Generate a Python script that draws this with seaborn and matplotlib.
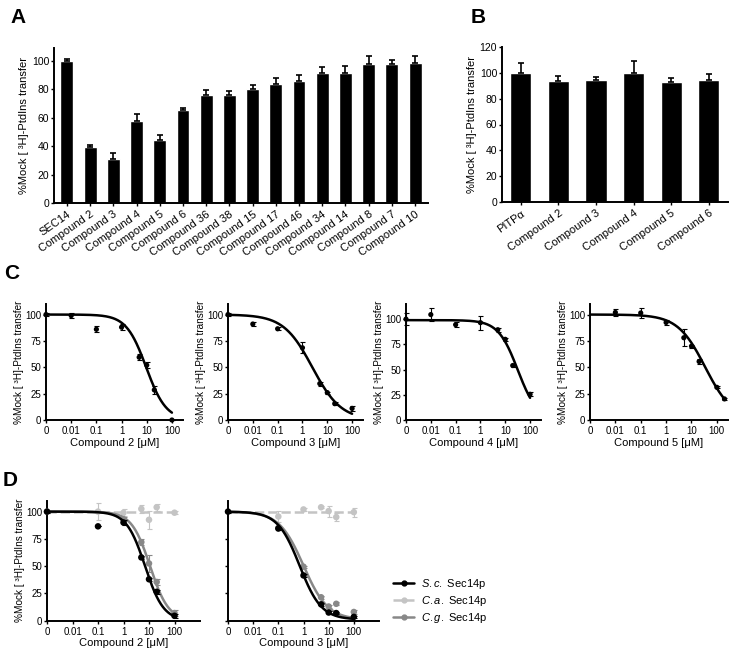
import numpy as np
import pandas as pd
import matplotlib
matplotlib.use("Agg")
import matplotlib.pyplot as plt
from matplotlib.lines import Line2D
import seaborn as sns

# ---------------- data ----------------
# Panel A
a_labels = ["SEC14", "Compound 2", "Compound 3", "Compound 4", "Compound 5", "Compound 6",
            "Compound 36", "Compound 38", "Compound 15", "Compound 17", "Compound 46",
            "Compound 34", "Compound 14", "Compound 8", "Compound 7", "Compound 10"]
a_values = [100, 39.5, 31, 57.5, 44, 65.5, 76, 76, 80, 83.5, 86, 91.5, 91.5, 97.5, 97.8, 98.7]
a_err = [1.5, 1, 4, 5, 4, 1.5, 3.7, 3, 3.3, 4.5, 3.8, 3.8, 5, 6, 3, 5]

# Panel B
b_labels = ["PITPα", "Compound 2", "Compound 3", "Compound 4", "Compound 5", "Compound 6"]
b_values = [100, 93.5, 94.5, 100, 92.8, 94.3]
b_err = [7.5, 4, 2.5, 9, 3, 4.5]

# Panel C (dose response); concentration 0 is drawn at the 0.001 position
c_names = ["Compound 2", "Compound 3", "Compound 4", "Compound 5"]
c1_conc = [0, 0.01, 0.1, 1, 5, 10, 20, 100]
c1_vals = [100, 99, 86, 88, 59.5, 52, 28.5, 0]
c1_err = [1.5, 2, 3, 3, 3, 3, 4, 0]
c2_conc = [0, 0.01, 0.1, 1, 5, 10, 20, 100]
c2_vals = [100, 91, 86.5, 68.5, 34.5, 26, 15.5, 11]
c2_err = [1, 2, 1.5, 5, 2, 1, 1.5, 2.5]
c3_conc = [0, 0.01, 0.1, 1, 5, 10, 20, 100]
c3_vals = [100, 104.5, 94.5, 96.5, 89.5, 80, 54, 25.5]
c3_err = [6, 6.5, 2.5, 7, 2, 1.5, 1, 2]
c4_conc = [0.01, 0.1, 1, 5, 10, 20, 100, 200]
c4_vals = [102, 101.5, 92.5, 78, 70, 55.5, 31, 20]
c4_err = [3, 5, 2, 8, 1.5, 2, 1, 1]
# fitted curve parameters: top, bottom, IC50, Hill slope, end concentration
c1_fit = (100, 0, 9.5, 1.1, 100)
c2_fit = (100, 0, 2.5, 0.75, 100)
c3_fit = (99, 0, 32, 1.1, 100)
c4_fit = (100, 0, 35, 0.8, 200)

# Panel D
d_names = ["Compound 2", "Compound 3"]
series_names = ["S.c.", "C.a.", "C.g."]
d1_sc_conc = [0, 0.1, 1, 5, 10, 20, 100]
d1_sc_vals = [100, 86.5, 90, 58, 38, 26.5, 4.5]
d1_sc_err = [1, 0, 2, 1.5, 1.5, 2, 2]
d1_ca_conc = [0.1, 1, 5, 10, 20, 100]
d1_ca_vals = [100, 99, 102.5, 92.5, 104, 99]
d1_ca_err = [8, 3, 4, 8, 3, 1.5]
d1_cg_conc = [0, 1, 5, 10, 20, 100]
d1_cg_vals = [100, 93, 72, 52.5, 35.5, 7]
d1_cg_err = [1, 2, 3, 8, 3, 3]
d2_sc_conc = [0, 0.1, 1, 5, 10, 20, 100]
d2_sc_vals = [100, 84.5, 41.5, 15, 7.5, 7, 3.5]
d2_sc_err = [1, 1, 1.5, 1.5, 1, 1, 1]
d2_ca_conc = [0.1, 1, 5, 10, 20, 100]
d2_ca_vals = [95.5, 102, 104, 100.5, 95, 99.5]
d2_ca_err = [5, 1, 1, 5, 4, 4]
d2_cg_conc = [0.1, 1, 5, 10, 20, 100]
d2_cg_vals = [85, 49.5, 21.5, 13, 15.5, 8]
d2_cg_err = [1, 1, 1.5, 1.5, 1.5, 2]
d1_sc_fit = (100, 0, 7, 1.2, 100)
d1_ca_fit = (100, 100, 1, 1, 100)
d1_cg_fit = (100, 0, 11, 1.2, 100)
d2_sc_fit = (100, 1, 0.7, 1.0, 100)
d2_ca_fit = (100, 100, 1, 1, 100)
d2_cg_fit = (100, 1, 1.0, 0.9, 100)

x_tick_pos = [-3, -2, -1, 0, 1, 2]
x_tick_labels = ["0", "0.01", "0.1", "1", "10", "100"]

# ---------------- style ----------------
sns.set_style("ticks")
plt.rcParams["font.family"] = ["Liberation Sans", "DejaVu Sans"]
plt.rcParams["mathtext.fontset"] = "custom"
plt.rcParams["mathtext.rm"] = "Liberation Sans"
plt.rcParams["mathtext.it"] = "Liberation Sans:italic"
for k in ["text.color", "axes.labelcolor", "xtick.color", "ytick.color", "axes.edgecolor"]:
    plt.rcParams[k] = "black"
plt.rcParams["axes.linewidth"] = 1.4
plt.rcParams["xtick.major.width"] = 1.0
plt.rcParams["ytick.major.width"] = 1.0
plt.rcParams["xtick.major.size"] = 2.5
plt.rcParams["ytick.major.size"] = 2.5
plt.rcParams["xtick.major.pad"] = 2
plt.rcParams["ytick.major.pad"] = 1

BAR_TICK_FS = 7.5
LAB_FS = 8
CUR_TICK_FS = 7
CUR_YLAB_FS = 7.2
YLAB = "%Mock [ ³H]-PtdIns transfer"
BLACK = "#000000"
LGRAY = "#c4c4c4"
MGRAY = "#888888"

W, H = 737, 661
fig = plt.figure(figsize=(W / 100, H / 100), dpi=100)


def add_ax(left, top, right, bottom):
    return fig.add_axes([left / W, 1 - bottom / H, (right - left) / W, (bottom - top) / H])


def pos(c):
    c = np.asarray(c, dtype=float)
    return np.where(c > 0, np.log10(np.where(c > 0, c, 1)), -3.0)


def curve(fit):
    top, bottom, ic50, hill, cend = fit
    xs = np.linspace(-3, np.log10(cend), 300)
    conc = 10 ** xs
    ys = bottom + (top - bottom) / (1 + (conc / ic50) ** hill)
    return xs, ys


def style_ax(ax, fs):
    sns.despine(ax=ax)
    ax.tick_params(labelsize=fs, direction="out")


# ---------------- Panel A ----------------
axA = add_ax(54, 48, 428, 203)
sns.barplot(x=a_labels, y=a_values, color=BLACK, saturation=1, width=0.56,
            errorbar=None, ax=axA)
axA.errorbar(np.arange(len(a_values)), a_values, yerr=[np.zeros(len(a_err)), a_err],
             fmt="none", ecolor=BLACK, elinewidth=1.2, capsize=2.2, capthick=1.2)
axA.set_xlim(-0.56, len(a_values) - 0.44)
axA.set_ylim(0, 109)
axA.set_yticks([0, 20, 40, 60, 80, 100])
axA.set_ylabel(YLAB, fontsize=LAB_FS, labelpad=2)
style_ax(axA, BAR_TICK_FS)
plt.setp(axA.get_xticklabels(), rotation=35, ha="right", rotation_mode="anchor", fontsize=LAB_FS)

# ---------------- Panel B ----------------
axB = add_ax(502, 47, 728, 202)
sns.barplot(x=b_labels, y=b_values, color=BLACK, saturation=1, width=0.56,
            errorbar=None, ax=axB)
axB.errorbar(np.arange(len(b_values)), b_values, yerr=[np.zeros(len(b_err)), b_err],
             fmt="none", ecolor=BLACK, elinewidth=1.2, capsize=2.2, capthick=1.2)
axB.set_xlim(-0.5, len(b_values) - 0.49)
axB.set_ylim(0, 120)
axB.set_yticks([0, 20, 40, 60, 80, 100, 120])
axB.set_ylabel(YLAB, fontsize=LAB_FS, labelpad=2)
style_ax(axB, BAR_TICK_FS)
plt.setp(axB.get_xticklabels(), rotation=35, ha="right", rotation_mode="anchor", fontsize=LAB_FS)

# ---------------- Panel C ----------------
c_boxes = [(46, 183, 110), (228, 363, 110), (406, 541, 115), (590, 728, 110)]
c_data = [(c1_conc, c1_vals, c1_err, c1_fit), (c2_conc, c2_vals, c2_err, c2_fit),
          (c3_conc, c3_vals, c3_err, c3_fit), (c4_conc, c4_vals, c4_err, c4_fit)]
for (l, r, ytop), (conc, vals, err, fit), name in zip(c_boxes, c_data, c_names):
    ax = add_ax(l, 304, r, 420)
    xs, ys = curve(fit)
    sns.lineplot(x=xs, y=ys, color=BLACK, lw=1.8, ax=ax)
    px = pos(conc)
    ax.errorbar(px, vals, yerr=err, fmt="none", ecolor=BLACK, elinewidth=0.8,
                capsize=1.8, capthick=0.8, clip_on=False)
    sns.scatterplot(x=px, y=vals, color=BLACK, s=14, edgecolor="none", ax=ax,
                    clip_on=False, zorder=5)
    ax.set_xlim(-3, 2.44)
    ax.set_ylim(0, ytop)
    ax.set_xticks(x_tick_pos)
    ax.set_xticklabels(x_tick_labels)
    ax.set_yticks([0, 25, 50, 75, 100])
    ax.set_xlabel(name + " [μM]", fontsize=LAB_FS, labelpad=1)
    ax.set_ylabel(YLAB, fontsize=CUR_YLAB_FS, labelpad=1)
    style_ax(ax, CUR_TICK_FS)

# ---------------- Panel D ----------------
d_boxes = [(47, 200), (228, 379)]
d_sets = [
    [(d1_sc_conc, d1_sc_vals, d1_sc_err, d1_sc_fit), (d1_ca_conc, d1_ca_vals, d1_ca_err, d1_ca_fit),
     (d1_cg_conc, d1_cg_vals, d1_cg_err, d1_cg_fit)],
    [(d2_sc_conc, d2_sc_vals, d2_sc_err, d2_sc_fit), (d2_ca_conc, d2_ca_vals, d2_ca_err, d2_ca_fit),
     (d2_cg_conc, d2_cg_vals, d2_cg_err, d2_cg_fit)],
]
d_colors = [BLACK, LGRAY, MGRAY]
d_ls = ["-", "--", "-"]
d_z = [4, 2, 3]
for i, ((l, r), sets, name) in enumerate(zip(d_boxes, d_sets, d_names)):
    ax = add_ax(l, 500.7, r, 620.7)
    for (conc, vals, err, fit), col, ls, z in zip(sets, d_colors, d_ls, d_z):
        xs, ys = curve(fit)
        sns.lineplot(x=xs, y=ys, color=col, lw=1.8, linestyle=ls, ax=ax, zorder=z)
        px = pos(conc)
        ax.errorbar(px, vals, yerr=err, fmt="none", ecolor=col, elinewidth=0.8,
                    capsize=1.8, capthick=0.8, clip_on=False, zorder=z)
        sns.scatterplot(x=px, y=vals, color=col, s=22, edgecolor="none", ax=ax,
                        clip_on=False, zorder=z + 0.5)
    ax.set_xlim(-3, 3)
    ax.set_ylim(0, 110)
    ax.set_xticks(x_tick_pos)
    ax.set_xticklabels(x_tick_labels)
    ax.set_yticks([0, 25, 50, 75, 100])
    ax.set_xlabel(name + " [μM]", fontsize=LAB_FS, labelpad=1)
    if i == 0:
        ax.set_ylabel(YLAB, fontsize=CUR_YLAB_FS, labelpad=1)
    else:
        ax.set_yticklabels([])
    style_ax(ax, CUR_TICK_FS)

handles = [
    Line2D([], [], color=BLACK, lw=1.8, ls="-", marker="o", ms=3.5),
    Line2D([], [], color=LGRAY, lw=1.8, ls="--", marker="o", ms=3.5),
    Line2D([], [], color=MGRAY, lw=1.8, ls="-", marker="o", ms=3.5),
]
labels = [r"$\mathit{S.c.}$ Sec14p", r"$\mathit{C.a.}$ Sec14p", r"$\mathit{C.g.}$ Sec14p"]
fig.legend(handles, labels, loc="upper left", bbox_to_anchor=(393 / W, 1 - 577 / H),
           frameon=False, fontsize=LAB_FS, handlelength=1.9, handletextpad=0.6,
           labelspacing=0.25, borderaxespad=0, borderpad=0)

# ---------------- panel letters ----------------
for letter, (x, y) in zip("ABCD", [(10, 8), (471, 8), (4, 264), (3, 471)]):
    fig.text(x / W, 1 - y / H, letter, fontsize=15, fontweight="bold", va="top", ha="left")

fig.savefig("out.png", dpi=100)
